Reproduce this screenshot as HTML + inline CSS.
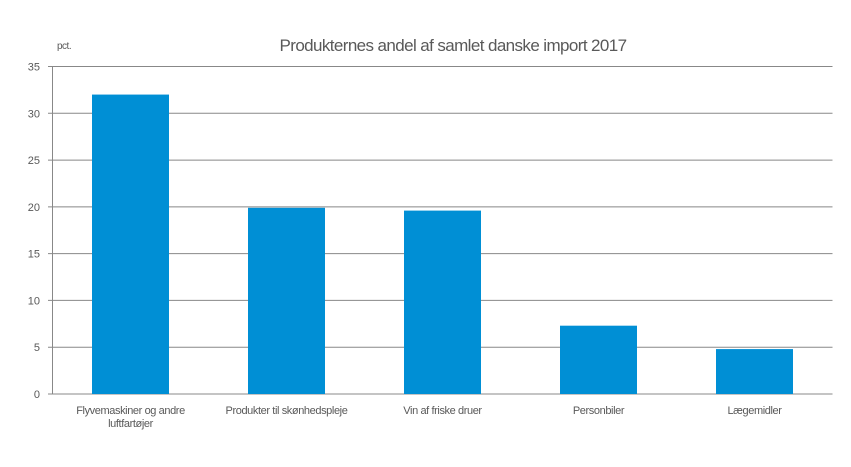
<!DOCTYPE html>
<html><head><meta charset="utf-8"><style>
body{margin:0;background:#fff;}
svg text{font-family:"Liberation Sans",sans-serif;fill:#595959;}
</style></head><body>
<svg width="851" height="462" xmlns="http://www.w3.org/2000/svg">
<text x="453" y="51" text-anchor="middle" font-size="17" letter-spacing="-0.6">Produkternes andel af samlet danske import 2017</text>
<text x="57" y="49" font-size="10" letter-spacing="-0.5">pct.</text>
<g id="grid"></g><g id="bars"></g><g id="xlabels"></g>
</svg>
<script>
const categories=[["Flyvemaskiner og andre","luftfartøjer"],["Produkter til skønhedspleje"],["Vin af friske druer"],["Personbiler"],["Lægemidler"]];
const values=[32.0,19.9,19.6,7.3,4.8];
const ticks=[0,5,10,15,20,25,30,35];
const X0=52.5,X1=832.5,Y0=394,Y1=66.5,MAX=35;
const y=v=>Y0-(v/MAX)*(Y0-Y1);
const step=(X1-X0)/categories.length;
const xc=i=>X0+step*(i+0.5);
const ns="http://www.w3.org/2000/svg";
function mk(t,a,p){const e=document.createElementNS(ns,t);for(const k in a)e.setAttribute(k,a[k]);p.appendChild(e);return e;}
const g=document.getElementById('grid'),b=document.getElementById('bars'),xl=document.getElementById('xlabels');
ticks.forEach(t=>{
 const l=mk('line',{x1:48,x2:X1,y1:y(t),y2:y(t),stroke:'#888','stroke-width':1},g);
 
 
 const tx=mk('text',{x:40,y:y(t)+4,'text-anchor':'end','font-size':11},g);
 tx.textContent=t;
 
 
});
const ax=mk('line',{x1:X0,x2:X0,y1:Y1,y2:Y0,stroke:'#888','stroke-width':1},g);


values.forEach((v,i)=>{
 const r=mk('rect',{x:xc(i)-38.5,y:y(v),width:77,height:Y0-y(v),fill:'#008fd5'},b);
 
 
 categories[i].forEach((line,j)=>{
  const t=mk('text',{x:xc(i),y:414+j*13,'text-anchor':'middle','font-size':11,'letter-spacing':'-0.4'},xl);
  t.textContent=line;
  
  
 });
});
</script>
</body></html>
